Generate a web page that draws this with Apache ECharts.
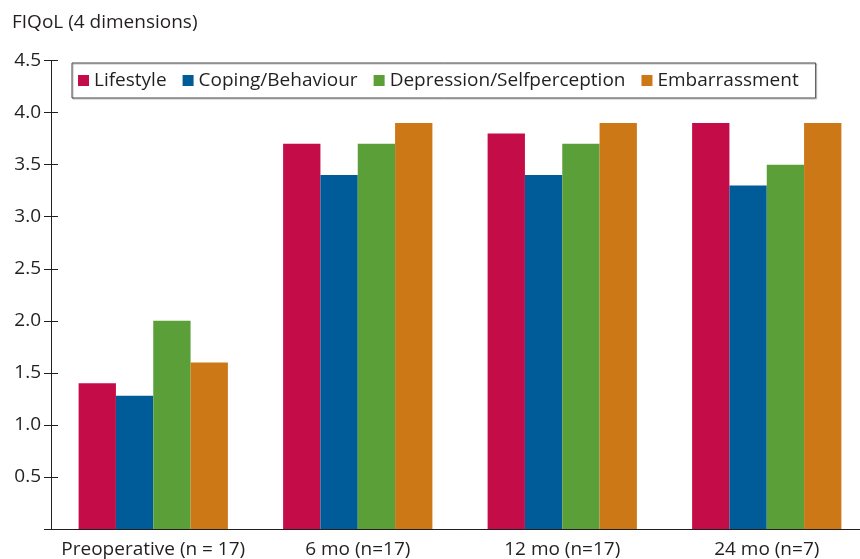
<!DOCTYPE html>
<html>
<head>
<meta charset="utf-8">
<title>FIQoL (4 dimensions)</title>
<script src="https://cdn.jsdelivr.net/npm/echarts@6/dist/echarts.min.js"></script>
<style>
  html, body { margin: 0; padding: 0; background: #fff; overflow: hidden; }
  /* the plot area runs slightly past the right edge of the page */
  #chart { width: 869px; height: 559px; }
</style>
</head>
<body>
<div id="chart"></div>
<script>
// Time points of the follow-up
const categories = ['Preoperative (n = 17)', '6 mo (n=17)', '12 mo (n=17)', '24 mo (n=7)'];

// Mean FIQoL scores per dimension
const lifestyle = [1.4, 3.7, 3.8, 3.9];
const coping = [1.28, 3.4, 3.4, 3.3];
const depression = [2.0, 3.7, 3.7, 3.5];
const embarrassment = [1.6, 3.9, 3.9, 3.9];

const seriesNames = ['Lifestyle', 'Coping/Behaviour', 'Depression/Selfperception', 'Embarrassment'];
const seriesValues = [lifestyle, coping, depression, embarrassment];
const seriesColors = ['#C30C48', '#005B99', '#5B9F38', '#CD7817'];

const yMin = 0, yMax = 4.5, yStep = 0.5;

const FONT = '"Open Sans", sans-serif';
const INK = '#231F20';
const FS = 19;

const chart = echarts.init(document.getElementById('chart'), null, { renderer: 'canvas' });

const yAxisBase = {
  type: 'value',
  min: yMin,
  max: yMax,
  interval: yStep,
  position: 'left',
  splitLine: { show: false },
  axisLine: { show: true, lineStyle: { color: INK, width: 1 } }
};

chart.setOption({
  animation: false,
  backgroundColor: '#fff',
  textStyle: { fontFamily: FONT, color: INK },
  title: {
    text: 'FIQoL (4 dimensions)',
    left: 7,
    top: 8,
    textStyle: { fontFamily: FONT, fontSize: FS, fontWeight: 'normal', color: INK }
  },
  legend: {
    data: seriesNames,
    left: 72,
    top: 63,
    orient: 'horizontal',
    icon: 'rect',
    itemWidth: 11,
    itemHeight: 11,
    itemGap: 16,
    padding: [8, 17, 8, 6],
    borderColor: '#444',
    borderWidth: 1,
    shadowColor: 'rgba(0,0,0,0.25)',
    shadowOffsetX: 1,
    shadowOffsetY: 1,
    textStyle: { fontFamily: FONT, fontSize: FS, color: INK }
  },
  grid: { left: 51, right: 0, top: 60.6, bottom: 29.5, containLabel: false },
  xAxis: {
    type: 'category',
    data: categories,
    axisTick: { show: false },
    axisLine: { show: true, lineStyle: { color: INK, width: 1 } },
    axisLabel: { fontFamily: FONT, fontSize: FS, color: INK, margin: 11, interval: 0 }
  },
  yAxis: [
    Object.assign({}, yAxisBase, {
      axisTick: { show: true, length: 7, inside: false, lineStyle: { color: INK } },
      axisLabel: {
        fontFamily: FONT, fontSize: FS, color: INK, margin: 10,
        formatter: v => (v === 0 ? '' : v.toFixed(1))
      }
    }),
    Object.assign({}, yAxisBase, {
      offset: 0,
      axisTick: { show: true, length: 7, inside: true, lineStyle: { color: INK } },
      axisLabel: { show: false }
    })
  ],
  series: seriesNames.map((name, i) => ({
    name,
    type: 'bar',
    yAxisIndex: 0,
    data: seriesValues[i],
    barGap: '0%',
    barCategoryGap: '27%',
    itemStyle: { color: seriesColors[i] }
  }))
});
</script>
</body>
</html>
